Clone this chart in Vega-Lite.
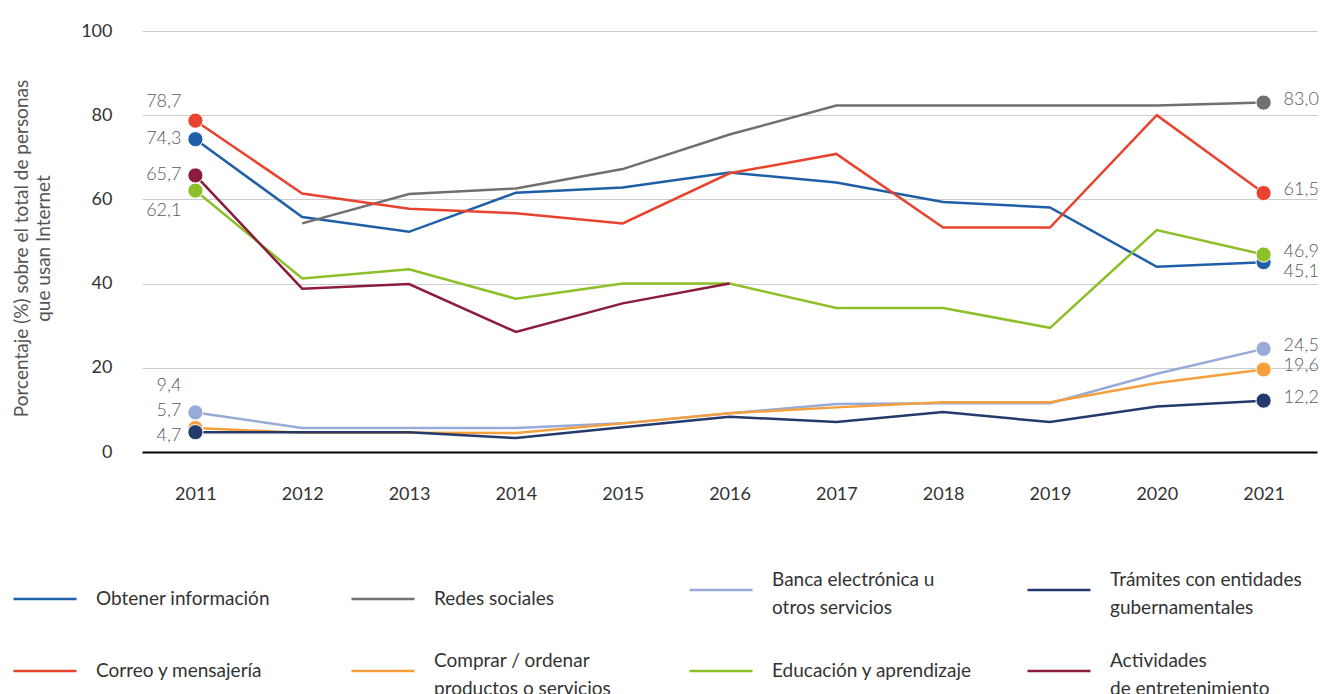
{
  "$schema": "https://vega.github.io/schema/vega-lite/v6.json",
  "autosize": {"type": "none"},
  "padding": {"left": 142, "top": 31, "right": 3, "bottom": 242},
  "width": 1175,
  "height": 421,
  "config": {
    "font": "Lato",
    "view": {"stroke": null},
    "locale": {"number": {"decimal": ",", "thousands": ".", "grouping": [3], "currency": ["", " €"]}},
    "style": {"guide-label": {"lineHeight": 28}}
  },
  "data": {"values": [
    {"series": "Obtener información", "year": 2011, "value": 74.3},
    {"series": "Obtener información", "year": 2012, "value": 55.8},
    {"series": "Obtener información", "year": 2013, "value": 52.3},
    {"series": "Obtener información", "year": 2014, "value": 61.6},
    {"series": "Obtener información", "year": 2015, "value": 62.8},
    {"series": "Obtener información", "year": 2016, "value": 66.4},
    {"series": "Obtener información", "year": 2017, "value": 64.0},
    {"series": "Obtener información", "year": 2018, "value": 59.4},
    {"series": "Obtener información", "year": 2019, "value": 58.1},
    {"series": "Obtener información", "year": 2020, "value": 44.0},
    {"series": "Obtener información", "year": 2021, "value": 45.1},
    {"series": "Redes sociales", "year": 2012, "value": 54.3},
    {"series": "Redes sociales", "year": 2013, "value": 61.3},
    {"series": "Redes sociales", "year": 2014, "value": 62.6},
    {"series": "Redes sociales", "year": 2015, "value": 67.2},
    {"series": "Redes sociales", "year": 2016, "value": 75.4},
    {"series": "Redes sociales", "year": 2017, "value": 82.3},
    {"series": "Redes sociales", "year": 2018, "value": 82.3},
    {"series": "Redes sociales", "year": 2019, "value": 82.3},
    {"series": "Redes sociales", "year": 2020, "value": 82.3},
    {"series": "Redes sociales", "year": 2021, "value": 83.0},
    {"series": "Banca electrónica u otros servicios", "year": 2011, "value": 9.4},
    {"series": "Banca electrónica u otros servicios", "year": 2012, "value": 5.7},
    {"series": "Banca electrónica u otros servicios", "year": 2013, "value": 5.7},
    {"series": "Banca electrónica u otros servicios", "year": 2014, "value": 5.7},
    {"series": "Banca electrónica u otros servicios", "year": 2015, "value": 6.8},
    {"series": "Banca electrónica u otros servicios", "year": 2016, "value": 9.2},
    {"series": "Banca electrónica u otros servicios", "year": 2017, "value": 11.4},
    {"series": "Banca electrónica u otros servicios", "year": 2018, "value": 11.6},
    {"series": "Banca electrónica u otros servicios", "year": 2019, "value": 11.6},
    {"series": "Banca electrónica u otros servicios", "year": 2020, "value": 18.6},
    {"series": "Banca electrónica u otros servicios", "year": 2021, "value": 24.5},
    {"series": "Comprar / ordenar productos o servicios", "year": 2011, "value": 5.7},
    {"series": "Comprar / ordenar productos o servicios", "year": 2012, "value": 4.6},
    {"series": "Comprar / ordenar productos o servicios", "year": 2013, "value": 4.6},
    {"series": "Comprar / ordenar productos o servicios", "year": 2014, "value": 4.5},
    {"series": "Comprar / ordenar productos o servicios", "year": 2015, "value": 6.8},
    {"series": "Comprar / ordenar productos o servicios", "year": 2016, "value": 9.2},
    {"series": "Comprar / ordenar productos o servicios", "year": 2017, "value": 10.6},
    {"series": "Comprar / ordenar productos o servicios", "year": 2018, "value": 11.8},
    {"series": "Comprar / ordenar productos o servicios", "year": 2019, "value": 11.8},
    {"series": "Comprar / ordenar productos o servicios", "year": 2020, "value": 16.4},
    {"series": "Comprar / ordenar productos o servicios", "year": 2021, "value": 19.6},
    {"series": "Trámites con entidades gubernamentales", "year": 2011, "value": 4.7},
    {"series": "Trámites con entidades gubernamentales", "year": 2012, "value": 4.7},
    {"series": "Trámites con entidades gubernamentales", "year": 2013, "value": 4.7},
    {"series": "Trámites con entidades gubernamentales", "year": 2014, "value": 3.3},
    {"series": "Trámites con entidades gubernamentales", "year": 2015, "value": 5.9},
    {"series": "Trámites con entidades gubernamentales", "year": 2016, "value": 8.4},
    {"series": "Trámites con entidades gubernamentales", "year": 2017, "value": 7.1},
    {"series": "Trámites con entidades gubernamentales", "year": 2018, "value": 9.5},
    {"series": "Trámites con entidades gubernamentales", "year": 2019, "value": 7.1},
    {"series": "Trámites con entidades gubernamentales", "year": 2020, "value": 10.8},
    {"series": "Trámites con entidades gubernamentales", "year": 2021, "value": 12.2},
    {"series": "Educación y aprendizaje", "year": 2011, "value": 62.1},
    {"series": "Educación y aprendizaje", "year": 2012, "value": 41.2},
    {"series": "Educación y aprendizaje", "year": 2013, "value": 43.4},
    {"series": "Educación y aprendizaje", "year": 2014, "value": 36.4},
    {"series": "Educación y aprendizaje", "year": 2015, "value": 40.0},
    {"series": "Educación y aprendizaje", "year": 2016, "value": 40.0},
    {"series": "Educación y aprendizaje", "year": 2017, "value": 34.2},
    {"series": "Educación y aprendizaje", "year": 2018, "value": 34.2},
    {"series": "Educación y aprendizaje", "year": 2019, "value": 29.5},
    {"series": "Educación y aprendizaje", "year": 2020, "value": 52.7},
    {"series": "Educación y aprendizaje", "year": 2021, "value": 46.9},
    {"series": "Actividades de entretenimiento", "year": 2011, "value": 65.7},
    {"series": "Actividades de entretenimiento", "year": 2012, "value": 38.8},
    {"series": "Actividades de entretenimiento", "year": 2013, "value": 39.9},
    {"series": "Actividades de entretenimiento", "year": 2014, "value": 28.5},
    {"series": "Actividades de entretenimiento", "year": 2015, "value": 35.3},
    {"series": "Actividades de entretenimiento", "year": 2016, "value": 40.0},
    {"series": "Correo y mensajería", "year": 2011, "value": 78.7},
    {"series": "Correo y mensajería", "year": 2012, "value": 61.4},
    {"series": "Correo y mensajería", "year": 2013, "value": 57.8},
    {"series": "Correo y mensajería", "year": 2014, "value": 56.7},
    {"series": "Correo y mensajería", "year": 2015, "value": 54.3},
    {"series": "Correo y mensajería", "year": 2016, "value": 66.2},
    {"series": "Correo y mensajería", "year": 2017, "value": 70.8},
    {"series": "Correo y mensajería", "year": 2018, "value": 53.3},
    {"series": "Correo y mensajería", "year": 2019, "value": 53.3},
    {"series": "Correo y mensajería", "year": 2020, "value": 80.0},
    {"series": "Correo y mensajería", "year": 2021, "value": 61.5}
  ]},
  "encoding": {
    "x": {
      "field": "year", "type": "ordinal",
      "scale": {"type": "point", "padding": 0.5},
      "axis": {"title": null, "domain": false, "ticks": false, "grid": false, "labelAngle": 0,
               "labelFontSize": 18, "labelColor": "#333333", "labelPadding": 33}
    },
    "y": {
      "field": "value", "type": "quantitative",
      "scale": {"domain": [0, 100], "nice": false},
      "axis": {
        "values": [0, 20, 40, 60, 80, 100],
        "title": ["Porcentaje (%) sobre el total de personas", "que usan Internet"],
        "titleFontSize": 19, "titleFontWeight": "normal", "titleColor": "#555555",
        "titleAngle": 270, "titleAlign": "center", "titleBaseline": "middle",
        "titleX": -121, "titleY": 217, "titleLineHeight": 22,
        "domain": false, "ticks": false, "labelPadding": 30,
        "labelFontSize": 18, "labelColor": "#333333",
        "gridColor": {"condition": {"test": "datum.value === 0", "value": "#000000"}, "value": "#cccccc"},
        "gridWidth": {"condition": {"test": "datum.value === 0", "value": 2}, "value": 1}
      }
    },
    "color": {
      "field": "series", "type": "nominal",
      "scale": {
        "domain": ["Obtener información", "Redes sociales", "Banca electrónica u otros servicios", "Trámites con entidades gubernamentales",
                   "Correo y mensajería", "Comprar / ordenar productos o servicios", "Educación y aprendizaje", "Actividades de entretenimiento"],
        "range": ["#1f5fa8", "#707070", "#97aad8", "#233a6b", "#e8432e", "#f5a03c", "#8dbf29", "#8c1c3e"]
      },
      "legend": {
        "title": null, "orient": "none", "legendX": -130, "legendY": 526,
        "direction": "horizontal",
        "columns": 4, "gridAlign": "all", "columnPadding": 50, "rowPadding": 20,
        "symbolType": "stroke", "symbolSize": 3969, "symbolStrokeWidth": 2.5,
        "labelOffset": 18, "labelFontSize": 19, "labelColor": "#333333", "labelLimit": 400,
        "padding": 0,
        "labelBaseline": {"expr": "indexof(['Banca electrónica u otros servicios','Trámites con entidades gubernamentales','Comprar / ordenar productos o servicios','Actividades de entretenimiento'], datum.value) >= 0 ? 'bottom' : 'middle'"},
        "labelExpr": "datum.label == 'Banca electrónica u otros servicios' ? ['Banca electrónica u', 'otros servicios'] : datum.label == 'Trámites con entidades gubernamentales' ? ['Trámites con entidades', 'gubernamentales'] : datum.label == 'Comprar / ordenar productos o servicios' ? ['Comprar / ordenar', 'productos o servicios'] : datum.label == 'Actividades de entretenimiento' ? ['Actividades', 'de entretenimiento'] : datum.label"
      }
    }
  },
  "layer": [
    {"mark": {"type": "line", "strokeWidth": 2.5}},
    {
      "transform": [{"filter": "datum.year == 2011 || datum.year == 2021"}],
      "mark": {"type": "circle", "size": 230, "opacity": 1, "stroke": "white", "strokeWidth": 1}
    },
    {
      "transform": [{"filter": "datum.year == 2011 && (datum.series == 'Obtener información' || datum.series == 'Actividades de entretenimiento')"}],
      "mark": {"type": "text", "align": "right", "baseline": "middle", "dx": -14, "dy": 0, "fontSize": 18, "fontWeight": 300},
      "encoding": {"text": {"field": "value", "type": "quantitative", "format": ".1f"}, "color": {"value": "#595959"}}
    },
    {
      "transform": [{"filter": "datum.year == 2011 && datum.series == 'Correo y mensajería'"}],
      "mark": {"type": "text", "align": "right", "baseline": "middle", "dx": -14, "dy": -19, "fontSize": 18, "fontWeight": 300},
      "encoding": {"text": {"field": "value", "type": "quantitative", "format": ".1f"}, "color": {"value": "#595959"}}
    },
    {
      "transform": [{"filter": "datum.year == 2011 && datum.series == 'Educación y aprendizaje'"}],
      "mark": {"type": "text", "align": "right", "baseline": "middle", "dx": -14, "dy": 20, "fontSize": 18, "fontWeight": 300},
      "encoding": {"text": {"field": "value", "type": "quantitative", "format": ".1f"}, "color": {"value": "#595959"}}
    },
    {
      "transform": [{"filter": "datum.year == 2011 && datum.series == 'Banca electrónica u otros servicios'"}],
      "mark": {"type": "text", "align": "right", "baseline": "middle", "dx": -14, "dy": -26, "fontSize": 18, "fontWeight": 300},
      "encoding": {"text": {"field": "value", "type": "quantitative", "format": ".1f"}, "color": {"value": "#595959"}}
    },
    {
      "transform": [{"filter": "datum.year == 2011 && datum.series == 'Comprar / ordenar productos o servicios'"}],
      "mark": {"type": "text", "align": "right", "baseline": "middle", "dx": -14, "dy": -17, "fontSize": 18, "fontWeight": 300},
      "encoding": {"text": {"field": "value", "type": "quantitative", "format": ".1f"}, "color": {"value": "#595959"}}
    },
    {
      "transform": [{"filter": "datum.year == 2011 && datum.series == 'Trámites con entidades gubernamentales'"}],
      "mark": {"type": "text", "align": "right", "baseline": "middle", "dx": -14, "dy": 4, "fontSize": 18, "fontWeight": 300},
      "encoding": {"text": {"field": "value", "type": "quantitative", "format": ".1f"}, "color": {"value": "#595959"}}
    },
    {
      "transform": [{"filter": "datum.year == 2021 && datum.series != 'Obtener información'"}],
      "mark": {"type": "text", "align": "left", "baseline": "middle", "dx": 20, "dy": -3, "fontSize": 18, "fontWeight": 300},
      "encoding": {"text": {"field": "value", "type": "quantitative", "format": ".1f"}, "color": {"value": "#595959"}}
    },
    {
      "transform": [{"filter": "datum.year == 2021 && datum.series == 'Obtener información'"}],
      "mark": {"type": "text", "align": "left", "baseline": "middle", "dx": 20, "dy": 10, "fontSize": 18, "fontWeight": 300},
      "encoding": {"text": {"field": "value", "type": "quantitative", "format": ".1f"}, "color": {"value": "#595959"}}
    }
  ]
}
